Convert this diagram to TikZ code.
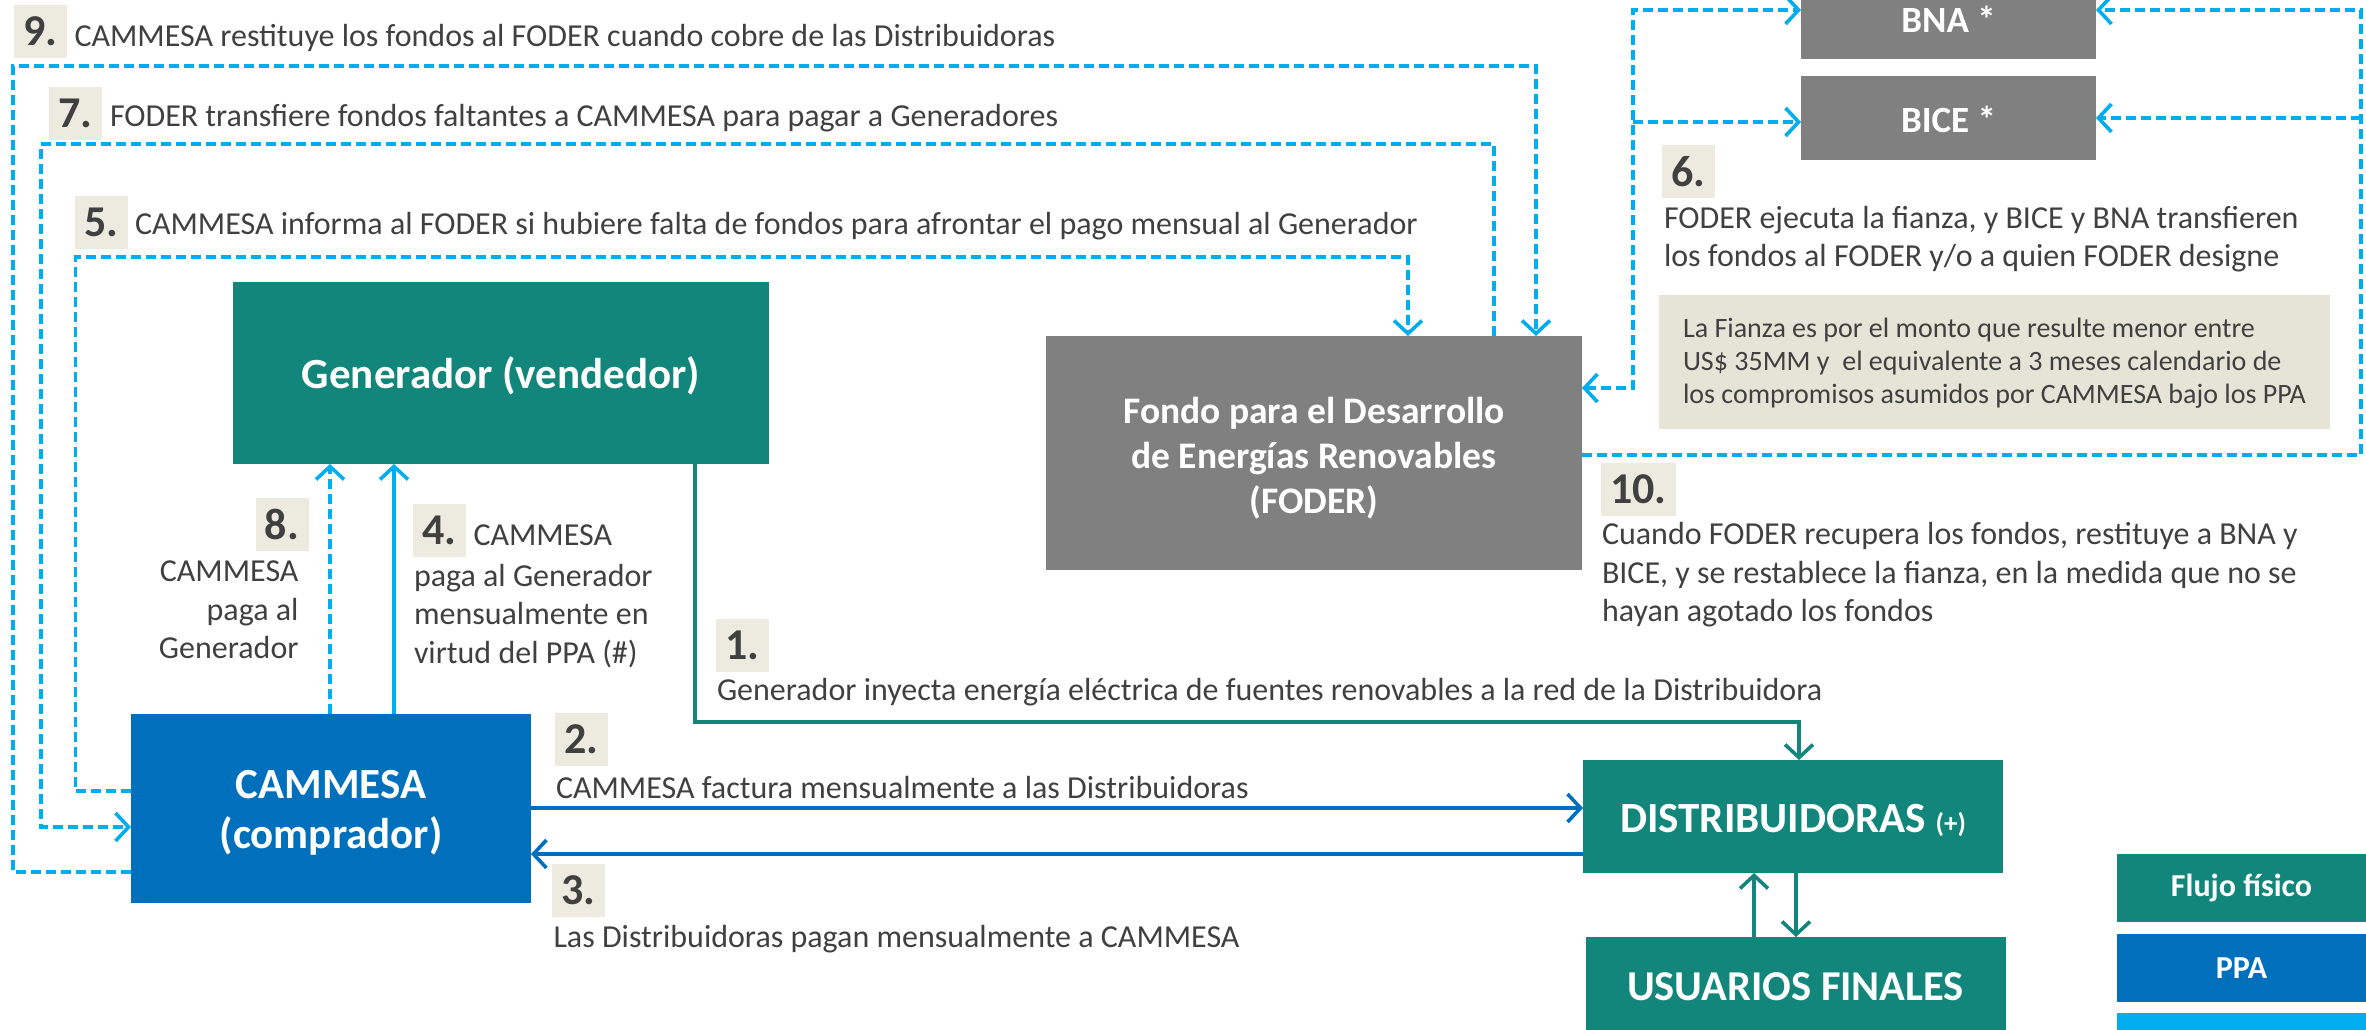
\documentclass[tikz,border=0pt]{standalone}
\usepackage{fontspec}
\setmainfont{Carlito}
\usetikzlibrary{arrows.meta}
\definecolor{verde}{HTML}{12867A}
\definecolor{azul}{HTML}{0070BC}
\definecolor{celeste}{HTML}{00AEEF}
\definecolor{gris}{HTML}{808080}
\definecolor{badgebg}{HTML}{EDEBE0}
\definecolor{fianzabg}{HTML}{E6E4D6}
\definecolor{tinta}{HTML}{404040}
\newcommand{\fs}[2]{\fontsize{#1}{#2}\selectfont}
\newcommand{\pushdown}[1]{\rule{0pt}{#1}}
\tikzset{
  box/.style={rectangle,inner sep=0pt,outer sep=0pt,text=white,align=center,font=\bfseries},
  greenbox/.style={box,fill=verde},
  bluebox/.style={box,fill=azul},
  greybox/.style={box,fill=gris},
  badge/.style={rectangle,fill=badgebg,inner sep=0pt,outer sep=0pt,text=tinta,font=\bfseries\fs{44}{44},anchor=center},
  lbl/.style={inner sep=0pt,outer sep=0pt,text=tinta,font=\fs{32}{38.5}\selectfont,align=left,anchor=west},
  flow/.style={line width=3.6pt,line cap=butt,line join=miter},
  dashflow/.style={flow,color=celeste,dash pattern=on 10pt off 5pt},
  solidflow/.style={flow,color=#1},
  endtip/.style={-{Straight Barb[length=13pt,width=28pt,line width=3.6pt]}},
  bothtip/.style={{Straight Barb[length=13pt,width=28pt,line width=3.6pt]}-{Straight Barb[length=13pt,width=28pt,line width=3.6pt]}},
}
\begin{document}
\begin{tikzpicture}[x=1pt,y=-1pt]
\clip (0,0) rectangle (2366,1029);
% main boxes
\node[greenbox,minimum width=536pt,minimum height=182pt,font=\bfseries\fs{43}{48}] (gen) at (501,373) {\pushdown{38pt}Generador (vendedor)};
\node[bluebox,minimum width=400pt,minimum height=189pt,font=\bfseries\fs{43}{50}] (cam) at (331,808.5) {\pushdown{36pt}CAMMESA\\(comprador)};
\node[greybox,minimum width=536pt,minimum height=234pt,font=\bfseries\fs{37.5}{45}] (foder) at (1314,453) {\pushdown{36pt}Fondo para el Desarrollo\\de Energías Renovables\\(FODER)};
\node[greybox,minimum width=295pt,minimum height=84pt,font=\bfseries\fs{37}{38}] (bna) at (1948.5,17) {\pushdown{30pt}BNA *};
\node[greybox,minimum width=295pt,minimum height=84pt,font=\bfseries\fs{37}{38}] (bice) at (1948.5,118) {\pushdown{30pt}BICE *};
\node[greenbox,minimum width=420pt,minimum height=113pt,font=\bfseries\fs{43}{46}] (dist) at (1793,816.5) {\pushdown{36pt}DISTRIBUIDORAS {\fs{27}{30}(+)}};
\node[greenbox,minimum width=420pt,minimum height=100pt,font=\bfseries\fs{42.5}{46},text depth=0pt] (usu) at (1795.5,987) {USUARIOS FINALES};
% legend
\node[greenbox,minimum width=249pt,minimum height=68pt,font=\bfseries\fs{32}{34}] (legA) at (2241.5,888) {Flujo físico};
\node[bluebox,minimum width=249pt,minimum height=68pt,font=\bfseries\fs{32}{34}] (legB) at (2241.5,968) {PPA};
\node[box,fill=celeste,minimum width=249pt,minimum height=68pt] (legC) at (2241.5,1047) {};
% fianza
\node[rectangle,fill=fianzabg,minimum width=671pt,minimum height=134pt,inner sep=0pt,outer sep=0pt] (fianza) at (1994.5,362) {};
\node[lbl,font=\fs{28}{33}\selectfont] (fianzatxt) at (1683,363.5) {La Fianza es por el monto que resulte menor entre\\US\$ 35MM y\ \ el equivalente a 3 meses calendario de\\los compromisos asumidos por CAMMESA bajo los PPA};
% named bends
\coordinate (busL) at (1633,0);
\coordinate (busR) at (2361,0);
\coordinate (bus5) at (75.5,0);
\coordinate (bus7) at (41,0);
\coordinate (bus9) at (13,0);
% dashed connectors
\draw[dashflow,endtip] (cam.west |- 0,791) -| (bus5 |- 0,257) -| (1408,336);
\draw[dashflow,endtip] (foder.north -| 1494,0) |- (bus7 |- 0,144) |- (cam.west |- 0,827);
\draw[dashflow,endtip] (cam.west |- 0,872) -| (bus9 |- 0,66) -| (foder.north -| 1536,0);
\draw[dashflow,bothtip] (foder.east |- 0,388) -| (busL |- 0,10) -- (bna.west |- 0,10);
\draw[dashflow,endtip] (busL |- 0,122) -- (bice.west |- 0,122);
\draw[dashflow,endtip] (foder.east |- 0,455) -| (busR |- 0,10) -- (bna.east |- 0,10);
\draw[dashflow,endtip] (busR |- 0,118) -- (bice.east |- 0,118);
\draw[dashflow,endtip] (cam.north -| 330,0) -- (gen.south -| 330,0);
% solid connectors
\draw[solidflow=celeste,endtip] (cam.north -| 394,0) -- (gen.south -| 394,0);
\draw[solidflow=verde,endtip] (gen.south -| 695,0) |- (1799,722) -- (dist.north -| 1799,0);
\draw[solidflow=azul,endtip] (cam.east |- 0,808) -- (dist.west |- 0,808);
\draw[solidflow=azul,endtip] (dist.west |- 0,854) -- (cam.east |- 0,854);
\draw[solidflow=verde,endtip] (usu.north -| 1754,0) -- (dist.south -| 1754,0);
\draw[solidflow=verde,endtip] (dist.south -| 1796,0) -- (usu.north -| 1796,0);
% badges
\node[badge,minimum width=53pt,minimum height=53pt] (b9) at (40.5,31.5) {9.};
\node[badge,minimum width=53pt,minimum height=53pt] (b7) at (75.5,113.5) {7.};
\node[badge,minimum width=53pt,minimum height=53pt] (b5) at (101.5,222.5) {5.};
\node[badge,minimum width=53pt,minimum height=53pt] (b8) at (282,524.5) {8.};
\node[badge,minimum width=53pt,minimum height=53pt] (b4) at (439.5,530.5) {4.};
\node[badge,minimum width=53pt,minimum height=53pt] (b1) at (742.5,645.5) {1.};
\node[badge,minimum width=53pt,minimum height=53pt] (b2) at (581.5,739.5) {2.};
\node[badge,minimum width=53pt,minimum height=53pt] (b3) at (578.5,890.5) {3.};
\node[badge,minimum width=53pt,minimum height=53pt] (b6) at (1688.5,171.5) {6.};
\node[badge,minimum width=75pt,minimum height=53pt] (b10) at (1638.5,489.5) {10.};
% labels
\node[lbl] (t9) at (74.5,38) {CAMMESA restituye los fondos al FODER cuando cobre de las Distribuidoras};
\node[lbl] (t7) at (110,118) {FODER transfiere fondos faltantes a CAMMESA para pagar a Generadores};
\node[lbl] (t5) at (135,226) {CAMMESA informa al FODER si hubiere falta de fondos para afrontar el pago mensual al Generador};
\node[lbl,align=right,anchor=east] (t8) at (298.5,610) {CAMMESA\\paga al\\Generador};
\node[lbl] (t4a) at (473.5,535) {CAMMESA};
\node[lbl] (t4b) at (414,616) {paga al Generador\\mensualmente en\\virtud del PPA (\#)};
\node[lbl] (t1) at (717,692) {Generador inyecta energía eléctrica de fuentes renovables a la red de la Distribuidora};
\node[lbl] (t2) at (556,787) {CAMMESA factura mensualmente a las Distribuidoras};
\node[lbl] (t3) at (553.5,939) {Las Distribuidoras pagan mensualmente a CAMMESA};
\node[lbl] (t6) at (1664,239) {FODER ejecuta la fianza, y BICE y BNA transfieren\\los fondos al FODER y/o a quien FODER designe};
\node[lbl] (t10) at (1602,575) {Cuando FODER recupera los fondos, restituye a BNA y\\BICE, y se restablece la fianza, en la medida que no se\\hayan agotado los fondos};
\end{tikzpicture}
\end{document}
